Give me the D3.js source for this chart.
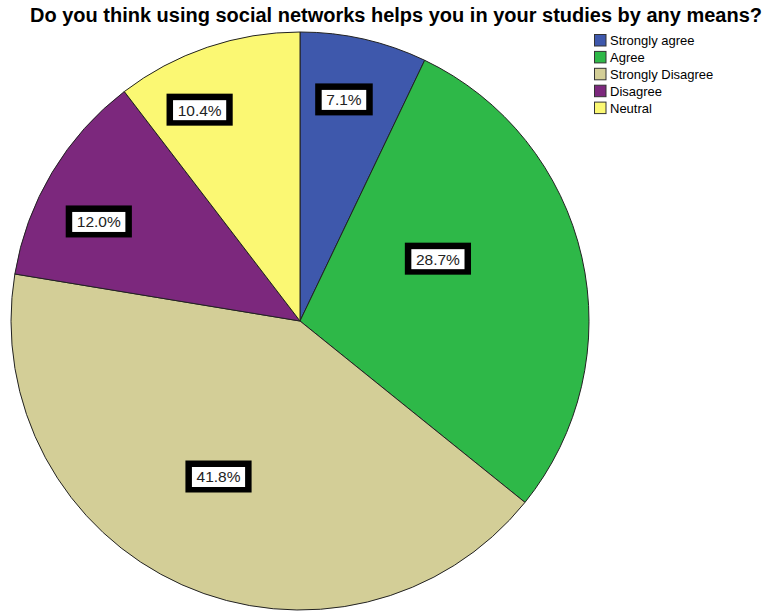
<!DOCTYPE html>
<html>
<head>
<meta charset="utf-8">
<script src="https://cdn.jsdelivr.net/npm/d3@7"></script>
<style>
  html, body { margin: 0; padding: 0; background: #fff; }
  svg { display: block; }
</style>
</head>
<body>
<svg id="chart" width="765" height="611"></svg>
<script>
// ---- data ----
const title = "Do you think using social networks helps you in your studies by any means?";
const categories = ["Strongly agree", "Agree", "Strongly Disagree", "Disagree", "Neutral"];
const values = [7.1, 28.7, 41.8, 12.0, 10.4];
const colors = ["#3E58AC", "#2EB848", "#D3CE97", "#7C287D", "#FBF873"];

// ---- layout (label anchor: fraction across slice angle, fraction of radius) ----
const labelAnchor = [
  { t: 0.44, r: 0.78 },
  { t: 0.39, r: 0.523 },
  { t: 0.523, r: 0.609 },
  { t: 0.39, r: 0.776 },
  { t: 0.32, r: 0.808 }
];

const svg = d3.select("#chart");
const cx = 300, cy = 321, R = 289;

svg.append("text")
  .attr("x", 396).attr("y", 22)
  .attr("text-anchor", "middle")
  .attr("font-family", "Liberation Sans, Arial, sans-serif")
  .attr("font-weight", "bold")
  .attr("font-size", 20)
  .attr("textLength", 732)
  .attr("lengthAdjust", "spacingAndGlyphs")
  .attr("fill", "#000")
  .text(title);

const pie = d3.pie().sort(null).value(d => d.v);
const data = categories.map((c, i) => ({ c, v: values[i], col: colors[i], i }));
const arcs = pie(data);
const arc = d3.arc().innerRadius(0).outerRadius(R);

const g = svg.append("g").attr("transform", `translate(${cx},${cy})`);
g.selectAll("path").data(arcs).enter().append("path")
  .attr("d", arc)
  .attr("fill", d => d.data.col)
  .attr("stroke", "#222")
  .attr("stroke-width", 1);

// labels
const fmt = d3.format(".1f");
arcs.forEach((d, i) => {
  const a = labelAnchor[i];
  const ang = d.startAngle + (d.endAngle - d.startAngle) * a.t;
  const rr = R * a.r;
  const x = Math.sin(ang) * rr, y = -Math.cos(ang) * rr;
  const lg = g.append("g").attr("transform", `translate(${x},${y})`);
  const outer = lg.append("rect").attr("fill", "#000");
  const inner = lg.append("rect").attr("fill", "#fff");
  const t = lg.append("text")
    .attr("text-anchor", "middle")
    .attr("dominant-baseline", "central")
    .attr("font-family", "Liberation Sans, Arial, sans-serif")
    .attr("font-size", 15.5)
    .attr("fill", "#222")
    .text(fmt(d.data.v) + "%");
  const bb = t.node().getBBox();
  const w = bb.width + 9, h = 20;
  inner.attr("x", -w / 2).attr("y", -h / 2).attr("width", w).attr("height", h);
  const bw = 6.5;
  outer.attr("x", -w / 2 - bw).attr("y", -h / 2 - bw).attr("width", w + 2 * bw).attr("height", h + 2 * bw - 1);
});

// legend
const lg = svg.append("g").attr("transform", "translate(594,34)");
const rowH = 16.9;
categories.forEach((c, i) => {
  const row = lg.append("g").attr("transform", `translate(0,${i * rowH})`);
  row.append("rect")
    .attr("x", 0.5).attr("y", 0.5).attr("width", 11.5).attr("height", 11.5)
    .attr("fill", colors[i]).attr("stroke", "#333").attr("stroke-width", 1);
  row.append("text")
    .attr("x", 16).attr("y", 6.5)
    .attr("dominant-baseline", "central")
    .attr("font-family", "Liberation Sans, Arial, sans-serif")
    .attr("font-size", 13)
    .attr("fill", "#000")
    .text(c);
});
</script>
</body>
</html>
